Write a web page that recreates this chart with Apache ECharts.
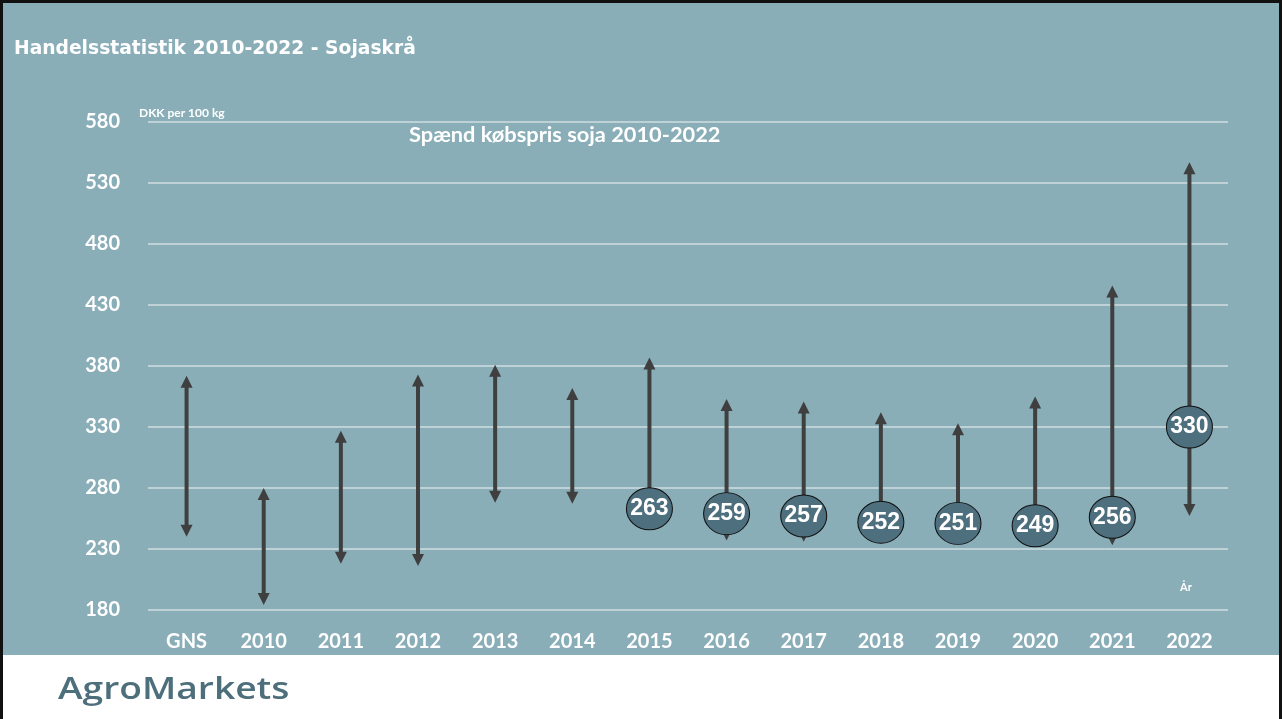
<!DOCTYPE html>
<html>
<head>
<meta charset="utf-8">
<script src="https://cdn.jsdelivr.net/npm/echarts@6/dist/echarts.min.js"></script>
<style>
html,body{margin:0;padding:0;background:#fff;}
#c{width:1282px;height:719px;}
</style>
</head>
<body>
<div id="c"></div>
<script>
// ---- data ----
const categories = ['GNS','2010','2011','2012','2013','2014','2015','2016','2017','2018','2019','2020','2021','2022'];
const lowPrice  = [240, 184, 218, 216, 268, 267, 250, 237, 236, 241, 243, 240, 233, 257];
const highPrice = [372, 280, 327, 373, 381, 362, 387, 353, 351, 342, 333, 355, 446, 547];
const avgPrice  = [null, null, null, null, null, null, 263, 259, 257, 252, 251, 249, 256, 330];
const yTicks = [180, 230, 280, 330, 380, 430, 480, 530, 580];

const TEAL = '#89aeb8';
const ARROW = '#3f3f3f';

const arrowData = categories.map((c, i) => [i, lowPrice[i], highPrice[i]]);
const bubbleData = [];
avgPrice.forEach((v, i) => { if (v !== null) bubbleData.push([i, v]); });

const chart = echarts.init(document.getElementById('c'), null, {renderer: 'canvas'});

function renderArrow(params, api) {
  const x = api.value(0);
  const pLow = api.coord([x, api.value(1)]);
  const pHigh = api.coord([x, api.value(2)]);
  const hw = 6, hh = 12;
  return {
    type: 'group',
    children: [
      {type: 'line', shape: {x1: pLow[0], y1: pLow[1] - hh + 1, x2: pHigh[0], y2: pHigh[1] + hh - 1},
       style: {stroke: ARROW, lineWidth: 4}},
      {type: 'polygon', shape: {points: [[pHigh[0], pHigh[1]], [pHigh[0] - hw, pHigh[1] + hh], [pHigh[0] + hw, pHigh[1] + hh]]},
       style: {fill: ARROW}},
      {type: 'polygon', shape: {points: [[pLow[0], pLow[1]], [pLow[0] - hw, pLow[1] - hh], [pLow[0] + hw, pLow[1] - hh]]},
       style: {fill: ARROW}}
    ]
  };
}

const option = {
  backgroundColor: '#ffffff',
  animation: false,
  graphic: [
    {type: 'rect', z: -10, silent: true, shape: {x: 0, y: 0, width: 1282, height: 655}, style: {fill: TEAL}},
    {type: 'rect', z: 100, silent: true, shape: {x: 1.5, y: 1.5, width: 1279, height: 730}, style: {fill: 'none', stroke: '#111', lineWidth: 3}},
    {type: 'text', left: 14, top: 40, style: {text: 'Handelsstatistik 2010-2022 - Sojaskrå', fill: '#fff', font: 'bold 18.7px "DejaVu Sans"'}},
    {type: 'text', left: 139, top: 107, style: {text: 'DKK per 100 kg', fill: '#fff', font: 'bold 12px Lato'}},
    {type: 'text', left: 409, top: 124, style: {text: 'Spænd købspris soja 2010-2022', fill: '#fff', font: 'bold 21.8px Lato'}},
    {type: 'text', left: 1180, top: 582, style: {text: 'År', fill: '#fff', font: 'bold 11px Lato'}},
    {type: 'text', x: 58, y: 675, scaleX: 1.2, style: {text: 'AgroMarkets', fill: '#4d6e7b', font: '600 31px "Open Sans"'}}
  ],
  grid: {left: 148, right: 54, top: 122, bottom: 109, containLabel: false},
  xAxis: {
    type: 'category',
    data: categories,
    axisLine: {show: false},
    axisTick: {show: false},
    axisLabel: {color: '#fff', fontFamily: 'Lato', fontWeight: 'bold', fontSize: 20, margin: 22}
  },
  yAxis: {
    type: 'value',
    min: 180,
    max: 580,
    axisLine: {show: false},
    axisTick: {show: false, customValues: yTicks},
    axisLabel: {color: '#fff', fontFamily: 'Lato', fontWeight: 'bold', fontSize: 20, margin: 28, customValues: yTicks},
    splitLine: {show: true, lineStyle: {color: '#cfdde1', width: 1.5}}
  },
  series: [
    {type: 'custom', renderItem: renderArrow, data: arrowData, z: 2, encode: {x: 0, y: [1, 2]}},
    {type: 'scatter', data: bubbleData, z: 5, symbol: 'circle', symbolSize: [46, 42],
     itemStyle: {color: '#4e6f7d', borderColor: '#111', borderWidth: 1, opacity: 1},
     label: {show: true, position: 'inside', formatter: p => p.value[1],
             color: '#fff', fontFamily: 'Liberation Sans', fontWeight: 'bold', fontSize: 23}}
  ]
};
chart.setOption(option);
</script>
</body>
</html>
